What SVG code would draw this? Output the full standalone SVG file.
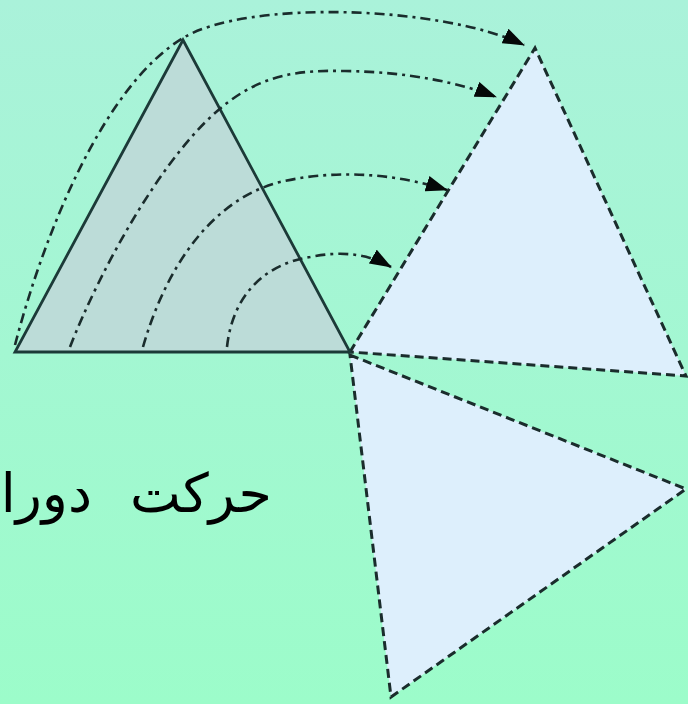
<svg xmlns="http://www.w3.org/2000/svg" width="688" height="704" viewBox="0 0 688 704">
<defs>
<linearGradient id="bg" x1="0" y1="0" x2="0" y2="1">
<stop offset="0" stop-color="#aaf2da"/>
<stop offset="1" stop-color="#9cfcca"/>
</linearGradient>
<marker id="ah" viewBox="0 0 22 16" refX="21" refY="8" markerWidth="22" markerHeight="16" markerUnits="userSpaceOnUse" orient="auto">
<path d="M0,0 L22,8 L0,16 Z" fill="#050808"/>
</marker>
<style>
.src{fill:#bcdcd8;stroke:#1c3a38;stroke-width:2.8;stroke-linejoin:miter}
.img{fill:#ddeffc;stroke:#1a2c2c;stroke-width:3;stroke-dasharray:9 5}
.arc{fill:none;stroke:#1a2c2c;stroke-width:2.6;stroke-dasharray:10 5 3 5;marker-end:url(#ah)}
.lbl{font-family:"DejaVu Sans","Noto Sans",sans-serif;font-size:54px;fill:#000}
</style>
</defs>
<rect width="688" height="704" fill="url(#bg)"/>
<g id="triangle-rotated-1">
<polygon class="img" points="350,352 535,48 686,376"/>
</g>
<g id="triangle-rotated-2">
<polygon class="img" points="350,355 686,489 391,697"/>
</g>
<g id="triangle-original">
<polygon class="src" points="183,40 15,352 350,352"/>
</g>
<g id="connectors">
<path class="arc" d="M15,345 C45,230 105,85 183,38 C245,0 440,5 524,45"/>
<path class="arc" d="M70,347 C100,270 165,150 227,103 C265,74 300,70 345,71 C410,72 460,83 496,97"/>
<path class="arc" d="M143,347 C165,270 210,200 280,182 C340,168 400,175 447,190"/>
<path class="arc" d="M227,347 C232,300 260,265 310,257 C345,250 370,255 391,267"/>
</g>
<g id="label">
<text class="lbl" x="272" y="512" text-anchor="end" word-spacing="21">حرکت دورا</text>
</g>
</svg>
